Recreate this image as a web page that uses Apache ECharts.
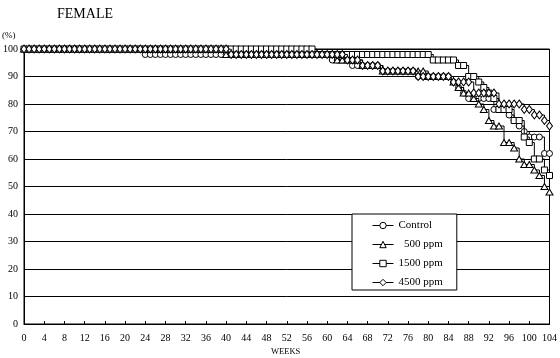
<!DOCTYPE html>
<html>
<head>
<meta charset="utf-8">
<script src="https://cdn.jsdelivr.net/npm/echarts@6/dist/echarts.min.js"></script>
<style>html,body{margin:0;padding:0;background:#fff}#c{width:560px;height:358px}</style>
</head>
<body>
<div id="c"></div>
<script>
var weeks = [0,1,2,3,4,5,6,7,8,9,10,11,12,13,14,15,16,17,18,19,20,21,22,23,24,25,26,27,28,29,30,31,32,33,34,35,36,37,38,39,40,41,42,43,44,45,46,47,48,49,50,51,52,53,54,55,56,57,58,59,60,61,62,63,64,65,66,67,68,69,70,71,72,73,74,75,76,77,78,79,80,81,82,83,84,85,86,87,88,89,90,91,92,93,94,95,96,97,98,99,100,101,102,103,104];

var seriesNames = ['Control', '500 ppm', '1500 ppm', '4500 ppm'];

// survival rate (%) per week, weeks 0..104
var control = [
100,100,100,100,100,100,100,100,100,100,100,100,100,100,100,100,100,100,100,100,100,100,100,100,
98,98,98,98,98,98,98,98,98,98,98,98,98,98,98,98,98,98,98,98,98,98,98,98,98,98,98,98,98,98,98,98,98,98,98,98,98,
96,96,96,96,
94,94,94,94,94,94,
92,92,92,92,92,92,92,
90,90,90,90,90,90,90,
88,86,84,
82,82,82,82,82,
78,78,78,
76,74,72,70,
68,68,68,
62,62];

var ppm500 = [
100,100,100,100,100,100,100,100,100,100,100,100,100,100,100,100,100,100,100,100,100,100,100,100,100,100,100,100,100,100,100,100,100,100,100,100,100,100,100,100,
98,98,98,98,98,98,98,98,98,98,98,98,98,98,98,98,98,98,98,98,98,98,
96,96,96,96,96,
94,94,94,94,
92,92,92,92,92,92,92,92,92,
90,90,90,90,90,
88,86,84,84,82,80,78,74,72,72,66,66,64,60,58,58,56,54,50,48];

var ppm1500 = [
100,100,100,100,100,100,100,100,100,100,100,100,100,100,100,100,100,100,100,100,100,100,100,100,100,100,100,100,100,100,100,100,100,100,100,100,100,100,100,100,100,100,100,100,100,100,100,100,100,100,100,100,100,100,100,100,100,100,
98,98,98,98,98,98,98,98,98,98,98,98,98,98,98,98,98,98,98,98,98,98,98,
96,96,96,96,96,
94,94,
90,90,
88,86,84,82,
78,78,78,
74,74,
68,66,60,60,56,54];

var ppm4500 = [
100,100,100,100,100,100,100,100,100,100,100,100,100,100,100,100,100,100,100,100,100,100,100,100,100,100,100,100,100,100,100,100,100,100,100,100,100,100,100,100,100,
98,98,98,98,98,98,98,98,98,98,98,98,98,98,98,98,98,98,98,98,98,98,98,
96,96,96,
94,94,94,94,
92,92,92,92,92,92,92,
90,90,90,90,90,90,90,
88,88,88,88,
84,84,84,84,84,
80,80,80,80,80,
78,78,76,76,74,72];

var yTicks = [0,10,20,30,40,50,60,70,80,90,100];
var xTicks = [0,4,8,12,16,20,24,28,32,36,40,44,48,52,56,60,64,68,72,76,80,84,88,92,96,100,104];

function pairs(vals){ return weeks.map(function(w,i){ return [w, vals[i]]; }); }

var serif = 'Liberation Serif';
var symbols = ['circle', 'triangle', 'rect', 'diamond'];
var sizes = [6, [7,6], 6, [6,8]];
var allVals = [control, ppm500, ppm1500, ppm4500];

var chart = echarts.init(document.getElementById('c'), null, {renderer:'canvas'});
chart.setOption({
  animation: false,
  backgroundColor: '#fff',
  title: {
    text: 'FEMALE', left: 52, top: 2,
    textStyle: {fontFamily: serif, fontSize: 14, fontWeight: 'normal', color: '#000'}
  },
  graphic: [
    {type:'text', left: 2, top: 31, style:{text:'(%)', font:'9px "Liberation Serif"', fill:'#000'}},
    {type:'text', left: 271, top: 347, style:{text:'WEEKS', font:'8.5px "Liberation Serif"', fill:'#000'}}
  ],
  legend: {
    orient: 'vertical', left: 352, top: 214,
    data: seriesNames,
    backgroundColor: '#fff',
    borderColor: '#000', borderWidth: 1,
    padding: [6, 14, 2, 20],
    itemWidth: 21, itemHeight: 8, itemGap: 8,
    lineStyle: {width: 1, color: '#000'},
    itemStyle: {color: '#fff', borderColor: '#000', borderWidth: 1},
    formatter: function(n){ return n === '500 ppm' ? '  500 ppm' : n; },
    textStyle: {fontFamily: serif, fontSize: 11, color: '#000'}
  },
  grid: {left: 23, right: 8, top: 49, bottom: 34, show: true, borderColor: '#000', borderWidth: 1},
  xAxis: {
    type: 'value', min: 0, max: 104, interval: 4,
    axisLine: {show: true, lineStyle: {color: '#000', width: 1}},
    axisTick: {show: true, inside: true, length: 3, lineStyle: {color: '#000'}},
    splitLine: {show: false},
    axisLabel: {
      margin: 9, color: '#000', fontFamily: serif, fontSize: 10,
      formatter: function(v){ return xTicks.indexOf(v) >= 0 ? String(v) : ''; }
    }
  },
  yAxis: {
    type: 'value', min: 0, max: 100, interval: 10,
    axisLine: {show: true, lineStyle: {color: '#000', width: 1}},
    axisTick: {show: false},
    splitLine: {show: true, lineStyle: {color: '#000', width: 1}},
    axisLabel: {
      margin: 6, color: '#000', fontFamily: serif, fontSize: 10,
      formatter: function(v){ return yTicks.indexOf(v) >= 0 ? String(v) : ''; }
    }
  },
  series: seriesNames.map(function(name, i){
    return {
      name: name, type: 'line', step: 'end',
      data: pairs(allVals[i]),
      symbol: symbols[i], symbolSize: sizes[i], showAllSymbol: true,
      lineStyle: {color: '#000', width: 1},
      itemStyle: {color: '#fff', borderColor: '#000', borderWidth: 1},
      emphasis: {disabled: true},
      z: 2 + i
    };
  })
});
</script>
</body>
</html>
